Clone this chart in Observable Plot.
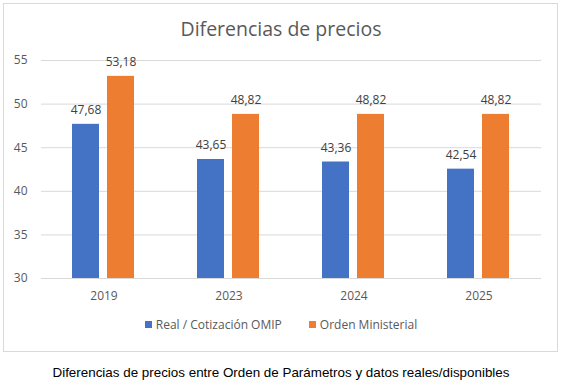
<!DOCTYPE html>
<html>
<head>
<meta charset="utf-8">
<script src="https://cdn.jsdelivr.net/npm/d3@7"></script>
<script src="https://cdn.jsdelivr.net/npm/@observablehq/plot@0.6"></script>
<style>
  body { margin:0; background:#fff; }
  #page { position:relative; width:562px; height:385px; overflow:hidden; }
  #box { position:absolute; left:3px; top:3px; width:553px; height:347px; border:1px solid #d9d9d9; box-sizing:content-box; }
  #title { position:absolute; left:0; width:562px; top:15px; text-align:center; font-family:'Open Sans',sans-serif; font-size:19.5px; color:#595959; }
  #chart { position:absolute; left:0; top:40px; }
  #legend { position:absolute; left:0; width:562px; top:316px; display:flex; justify-content:center; gap:27px; font-family:'Open Sans',sans-serif; font-size:12px; color:#595959; }
  #legend span.item { display:flex; align-items:center; gap:4px; }
  #legend span.sw { display:inline-block; width:7px; height:7px; }
  #caption { position:absolute; left:0; width:562px; top:365px; text-align:center; font-family:'Liberation Sans',Arial,sans-serif; font-size:13.4px; color:#000; }
</style>
</head>
<body>
<div id="page">
  <div id="box"></div>
  <div id="title">Diferencias de precios</div>
  <div id="chart"></div>
  <div id="legend"></div>
  <div id="caption">Diferencias de precios entre Orden de Parámetros y datos reales/disponibles</div>
</div>
<script>
const years = ["2019", "2023", "2024", "2025"];
const series = ["Real / Cotización OMIP", "Orden Ministerial"];
const realValues = [47.68, 43.65, 43.36, 42.54];
const ordenValues = [53.18, 48.82, 48.82, 48.82];
const yTicks = [30, 35, 40, 45, 50, 55];
const colors = ["#4472C4", "#ED7D31"];

const data = years.flatMap((y, i) => [
  {year: y, series: series[0], value: realValues[i]},
  {year: y, series: series[1], value: ordenValues[i]}
]);

const fmt = d3.formatLocale({decimal: ",", thousands: ".", grouping: [3], currency: ["", "€"]}).format(".2f");

const chart = Plot.plot({
  width: 562,
  height: 268,
  marginLeft: 39,
  marginRight: 20,
  marginTop: 20,
  marginBottom: 30,
  style: {fontFamily: "'Open Sans', sans-serif", fontSize: "12px", color: "#595959", background: "transparent", overflow: "visible"},
  fx: {domain: years, padding: 0, label: null},
  x: {domain: series, paddingInner: 0.222, paddingOuter: 0.857, axis: null},
  y: {domain: [30, 55], label: null},
  color: {domain: series, range: colors},
  marks: [
    Plot.ruleY(yTicks, {stroke: "#d9d9d9", strokeWidth: 1}),
    Plot.barY(data, {fx: "year", x: "series", y1: 30, y2: "value", fill: "series"}),
    Plot.text(data, {fx: "year", x: "series", y: "value", text: d => fmt(d.value), dy: -14, fill: "#404040", fontSize: 12}),
    Plot.axisY({ticks: yTicks, tickSize: 0, tickPadding: 14, label: null, fontSize: 12, fill: "#595959"}),
    Plot.axisFx({anchor: "bottom", tickSize: 0, tickPadding: 13, label: null, fontSize: 12, fill: "#595959"})
  ]
});
document.getElementById("chart").appendChild(chart);

const legend = document.getElementById("legend");
series.forEach((s, i) => {
  const item = document.createElement("span");
  item.className = "item";
  const sw = document.createElement("span");
  sw.className = "sw";
  sw.style.background = colors[i];
  item.appendChild(sw);
  item.appendChild(document.createTextNode(s));
  legend.appendChild(item);
});
</script>
</body>
</html>
